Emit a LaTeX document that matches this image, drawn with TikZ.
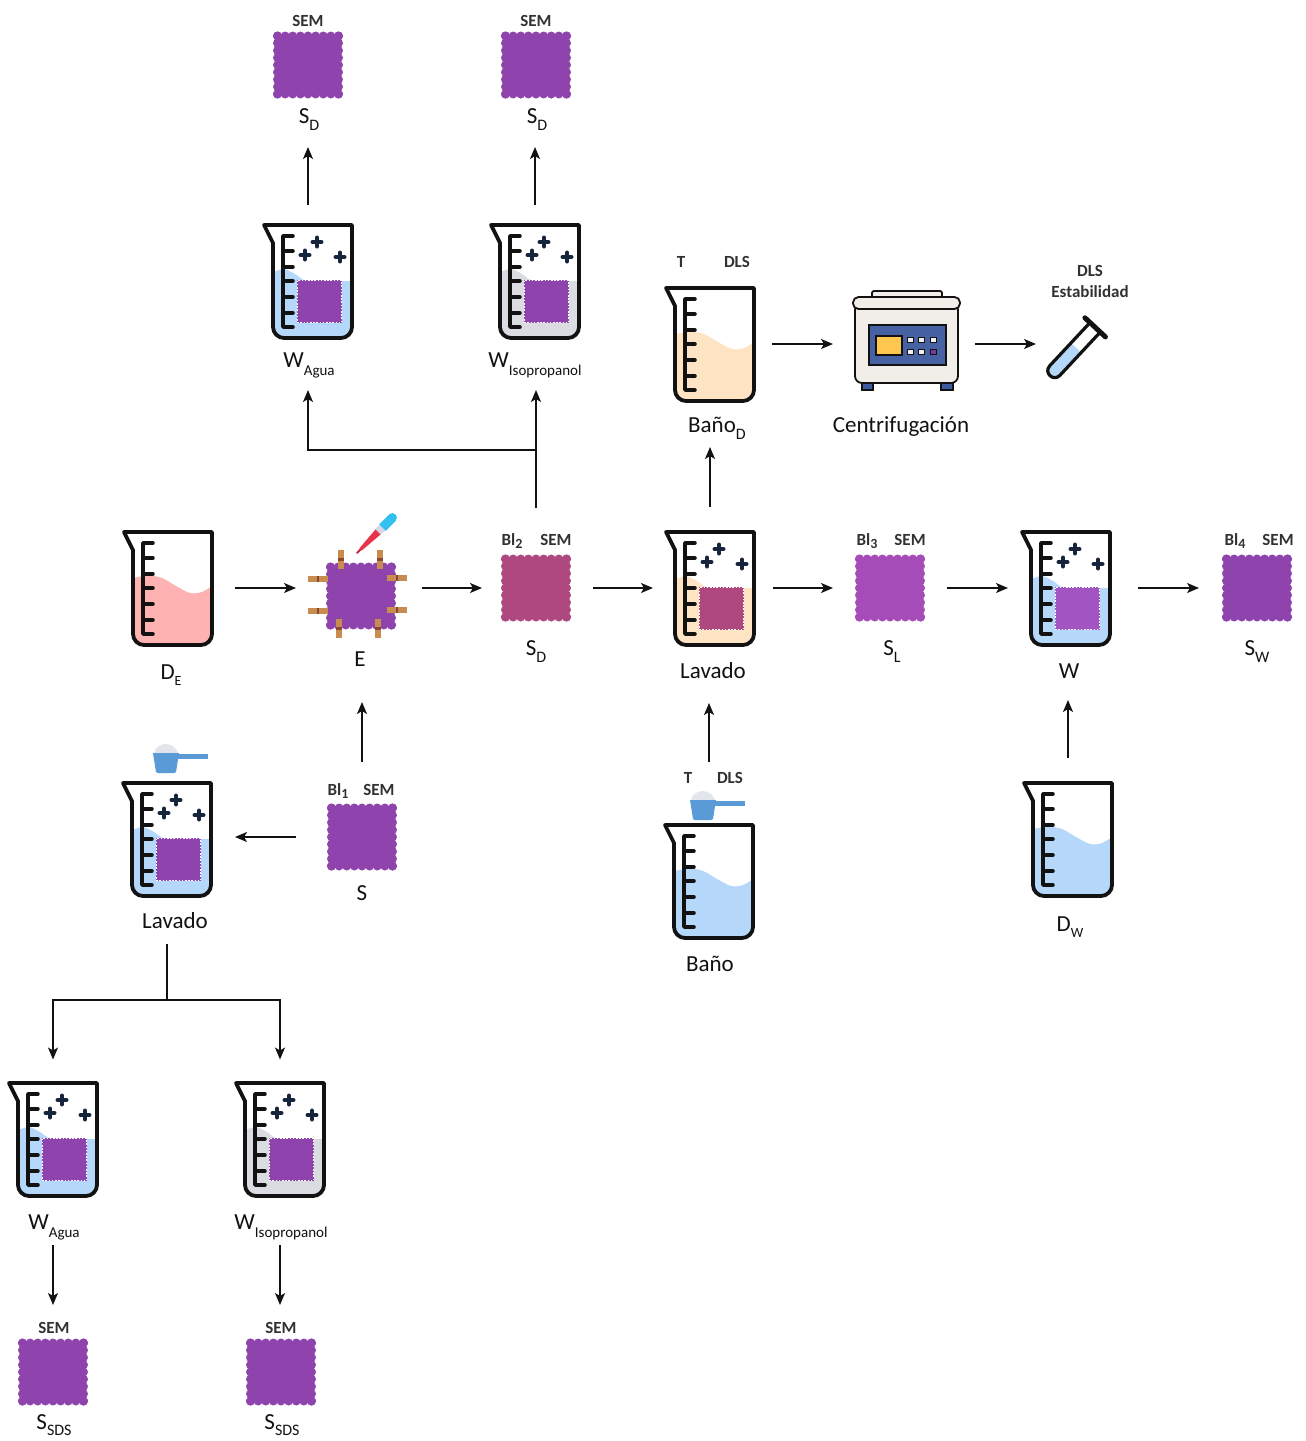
\documentclass[tikz,border=0pt]{standalone}
\usepackage{fontspec}
\setmainfont{Carlito}
\usetikzlibrary{arrows.meta,calc}

\definecolor{ink}{RGB}{18,18,18}
\definecolor{tagc}{RGB}{50,50,50}
\definecolor{purp}{RGB}{143,68,173}
\definecolor{mag}{RGB}{176,72,128}
\definecolor{lpurp}{RGB}{166,76,184}
\definecolor{wpurp}{RGB}{162,84,194}
\definecolor{water}{RGB}{180,215,250}
\definecolor{iso}{RGB}{218,220,226}
\definecolor{beige}{RGB}{255,228,196}
\definecolor{pinkliq}{RGB}{255,178,178}
\definecolor{navy}{RGB}{22,36,60}
\definecolor{pinc}{RGB}{200,140,80}
\definecolor{pinband}{RGB}{135,72,52}
\definecolor{scoopc}{RGB}{90,155,215}
\definecolor{powder}{RGB}{226,230,236}
\definecolor{dropred}{RGB}{232,52,74}
\definecolor{collar}{RGB}{215,215,230}
\definecolor{bulb}{RGB}{50,192,238}
\definecolor{cfbody}{RGB}{241,238,234}
\definecolor{cfpanel}{RGB}{70,98,162}
\definecolor{cffoot}{RGB}{60,90,160}
\definecolor{cfyellow}{RGB}{255,198,80}
\definecolor{cfbtn}{RGB}{240,240,240}
\definecolor{cfbtnp}{RGB}{120,60,160}

% subscripts of different sizes
\newcommand\sbt[1]{\raisebox{-7pt}{\fontsize{16}{16}\selectfont #1}}
\newcommand\sbs[1]{\raisebox{-8pt}{\fontsize{15}{15}\selectfont #1}}
\newcommand\sbe[1]{\raisebox{-6pt}{\fontsize{14}{14}\selectfont #1}}
\newcommand\sbn[1]{\raisebox{-3pt}{\fontsize{14}{14}\selectfont #1}}

% liquid and graduation of a beaker, drawn around the current origin
\newcommand\beakerbody[2]{%
  \begin{scope}
    \clip (-44,-56) -- (-35,-38) -- (-35,46) .. controls (-35,52) and (-30,57) .. (-24,57)
      -- (33,57) .. controls (39,57) and (44,52) .. (44,46) -- (44,-56) -- cycle;
    \fill[#1] plot[smooth] coordinates {#2} -- (50,64) -- (-50,64) -- cycle;
  \end{scope}
  \draw[ink, line width=3.5, line cap=round, line join=round]
    (-15,-45) -- (-25,-45) -- (-25,46) -- (-15,46);
  \foreach \t in {-30,-14,0,16,32}
    \draw[ink, line width=3.5, line cap=round] (-25,\t) -- (-15,\t);
}
% glass outline
\newcommand\beakerrim{%
  \draw[ink, line width=3.8, line join=round]
    (-44,-56) -- (-35,-38) -- (-35,46) .. controls (-35,52) and (-30,57) .. (-24,57)
    -- (33,57) .. controls (39,57) and (44,52) .. (44,46) -- (44,-56) -- cycle;
}
% beaker holding only a liquid
\newcommand\plainbeaker[3]{%
  \node[bbox] (#1) at (#2) {};
  \begin{scope}[shift={(#2)}]
    \beakerbody{#3}{(-46,-9) (-35,-10) (-20,-12.5) (-6,-10) (8,-2) (22,5) (34,4) (46,-3)}
    \beakerrim
  \end{scope}}
% beaker with a fabric sample and bubbles
\newcommand\washbeaker[4]{%
  \node[bbox] (#1) at (#2) {};
  \begin{scope}[shift={(#2)}]
    \beakerbody{#3}{(-46,-7) (-35,-9) (-24,-12) (-13,-7) (-4,-1) (10,0) (46,0)}
    \fill[#4] (-11,-1) rectangle (34,42);
    \draw[white, line width=1, dash pattern=on 1.6pt off 1.6pt] (-10.5,-0.5) rectangle (33.5,41.5);
    \foreach \px/\py in {9/-39,-3/-26,32/-24}
      \draw[navy, line width=4, line cap=round] (\px-4.5,\py) -- (\px+4.5,\py) (\px,\py-4.5) -- (\px,\py+4.5);
    \beakerrim
  \end{scope}}
% fabric swatch with scalloped border
\newcommand\swatch[3]{%
  \node[sbox] (#1) at (#2) {};
  \begin{scope}[shift={(#2)}]
    \fill[#3] (-30.5,-29) rectangle (30.5,29);
    \foreach \i in {0,...,8}{
      \fill[#3] ({-30.5+\i*7.625},-29) circle[radius=4.5];
      \fill[#3] ({-30.5+\i*7.625},29) circle[radius=4.5];
      \fill[#3] (-30.5,{-29+\i*7.25}) circle[radius=4.5];
      \fill[#3] (30.5,{-29+\i*7.25}) circle[radius=4.5];}
  \end{scope}}
% detergent scoop, origin at the top-left of the cup
\newcommand\scoop[1]{%
  \begin{scope}[shift={(#1)}]
    \fill[powder] (1,0) .. controls (2,-6) and (8,-9) .. (13,-9) .. controls (19,-9) and (24,-4) .. (25,0) -- cycle;
    \fill[scoopc] (0,0) -- (26,0) -- (23,19) .. controls (22.5,20) .. (21,20) -- (5,20) .. controls (3.5,20) .. (3,19) -- cycle;
    \fill[scoopc] (25,1) rectangle (55,5.5);
  \end{scope}}

\begin{document}
\begin{tikzpicture}[x=1pt,y=-1pt,
  every node/.style={inner sep=0pt, outer sep=0pt},
  bbox/.style={minimum width=90pt, minimum height=115pt},
  sbox/.style={minimum width=70pt, minimum height=67pt},
  lbl/.style={anchor=base, text=ink, font=\fontsize{23}{27}\selectfont},
  tag/.style={anchor=base, text=tagc, font=\fontsize{17}{20}\selectfont\bfseries},
  link/.style={ink, line width=1.4},
  arr/.style={link, -{Stealth[length=12pt, width=10pt, inset=3pt]}}]

\fill[white] (0,0) rectangle (1306,1441);
\useasboundingbox (0,0) rectangle (1306,1441);

% ---------- icons ----------
% top row
\swatch{semA}{308,65}{purp}
\swatch{semB}{536,65}{purp}
\washbeaker{wAguaT}{308,281}{water}{purp}
\washbeaker{wIsoT}{535,281}{iso}{purp}
\plainbeaker{banoD}{710,344}{beige}

% centrifuge
\node[minimum width=108pt, minimum height=100pt] (cf) at (907,344) {};
\draw[ink, line width=1.4, fill=cffoot] (862,381) rectangle (873,390);
\draw[ink, line width=1.4, fill=cffoot] (941,381) rectangle (953,390);
\draw[ink, line width=1.8, fill=cfbody, rounded corners=2] (872,291) rectangle (942,299);
\draw[ink, line width=1.8, fill=cfbody, rounded corners=7] (855,303) rectangle (958,383);
\draw[ink, line width=1.8, fill=cfbody, rounded corners=5.5] (853,297) rectangle (960,309);
\draw[ink, line width=1.5, fill=cfpanel] (869,325) rectangle (946,365);
\draw[ink, line width=1.2, fill=cfyellow] (876,336) rectangle (902,355);
\foreach \bx in {907,918,930}{
  \draw[ink, line width=0.9, fill=cfbtn] (\bx,337) rectangle (\bx+6.5,342.5);}
\foreach \bx in {907,918}{
  \draw[ink, line width=0.9, fill=cfbtn] (\bx,349) rectangle (\bx+6.5,354.5);}
\draw[ink, line width=0.9, fill=cfbtnp] (930,349) rectangle (936.5,354.5);

% test tube
\node[minimum width=70pt, minimum height=70pt] (tube) at (1074,350) {};
\begin{scope}[shift={(1074,350)}, rotate=47]
  \fill[water] (3,-6) -- (-28,-6) .. controls (-36,-6) and (-36,6) .. (-28,6) -- (3,6) -- cycle;
  \draw[ink, line width=3.2, line join=round] (30,-7) -- (-28,-7) .. controls (-37.5,-7) and (-37.5,7) .. (-28,7) -- (30,7);
  \draw[ink, line width=5, line cap=round] (31,-14) -- (31,14);
\end{scope}

% middle row
\plainbeaker{bDE}{168,588}{pinkliq}
\swatch{E}{361,596}{purp}
\foreach \x/\ya/\yb in {341/550/569,380/550/569,339/619/638,378/619/638}{
  \fill[pinc] (\x-2.6,\ya) rectangle (\x+2.6,\yb);
  \fill[pinband] (\x-2.6,{(\ya+\yb)/2-1.3}) rectangle (\x+2.6,{(\ya+\yb)/2+1.3});}
\foreach \y/\xa/\xb in {579/308/328,611/308/328,578/387/407,610/387/407}{
  \fill[pinc] (\xa,\y-2.6) rectangle (\xb,\y+2.6);
  \fill[pinband] ({(\xa+\xb)/2-1.3},\y-2.6) rectangle ({(\xa+\xb)/2+1.3},\y+2.6);}
% dropper
\begin{scope}[shift={(357,553)}, rotate=45]
  \draw[dropred!80!black, line width=2, line cap=round] (0,0) -- (6,0);
  \fill[dropred] (5,-1.6) -- (30,-3.6) -- (30,3.6) -- (5,1.6) -- cycle;
  \fill[collar] (30,-4) rectangle (36,4);
  \fill[bulb] (36,-4.6) -- (50,-4.6) .. controls (56,-4.6) and (56,4.6) .. (50,4.6) -- (36,4.6) -- cycle;
\end{scope}
\swatch{sD}{536,588}{mag}
\washbeaker{lavM}{710,588}{beige}{mag}
\swatch{sL}{890,588}{lpurp}
\washbeaker{bW}{1066,588}{water}{wpurp}
\swatch{sW}{1257,588}{purp}

% lower row
\scoop{153,753}
\washbeaker{lavL}{167,839}{water}{purp}
\swatch{S}{362,837}{purp}
\scoop{690,800}
\plainbeaker{bano}{709,881}{water}
\plainbeaker{bDW}{1068,839}{water}

% bottom rows
\washbeaker{wAguaB}{53,1139}{water}{purp}
\washbeaker{wIsoB}{280,1139}{iso}{purp}
\swatch{sdsA}{53,1372}{purp}
\swatch{sdsB}{281,1372}{purp}

% ---------- connectors ----------
\draw[arr, shorten <=18.5pt, shorten >=48.5pt] (wAguaT.north) -- (semA.south);
\draw[arr, shorten <=18.5pt, shorten >=48.5pt] (wIsoT.north) -- (wIsoT.north |- semB.south);
\draw[arr, shorten <=46.5pt, shorten >=51.5pt] (sD.north) -- (sD.north |- wIsoT.south);
\coordinate (brA) at (536,450);
\draw[arr, shorten >=51.5pt] (brA) -| (wAguaT.south);
\draw[arr, shorten <=23.5pt, shorten >=45.5pt] (lavM.north) -- (banoD.south);
\draw[arr, shorten <=17pt, shorten >=20pt] (banoD.east) -- (banoD.east -| cf.west);
\draw[arr, shorten <=14pt, shorten >=3pt] (cf.east) -- (cf.east -| tube.west);

\draw[arr, shorten <=22pt, shorten >=30pt] (bDE.east) -- (bDE.east -| E.west);
\draw[arr, shorten <=26pt, shorten >=19pt] (E.east |- sD.west) -- (sD.west);
\draw[arr, shorten <=22pt, shorten >=12pt] (sD.east) -- (lavM.west);
\draw[arr, shorten <=18pt, shorten >=22pt] (lavM.east) -- (sL.west);
\draw[arr, shorten <=22pt, shorten >=13pt] (sL.east) -- (bW.west);
\draw[arr, shorten <=27pt, shorten >=23pt] (bW.east) -- (sW.west);

\draw[arr, shorten <=41.5pt, shorten >=72.5pt] (S.north) -- (S.north |- E.south);
\draw[arr, shorten <=61.5pt, shorten >=57.5pt] (bano.north) -- (bano.north |- lavM.south);
\draw[arr, shorten <=23.5pt, shorten >=54.5pt] (bDW.north) -- (bDW.north |- bW.south);
\draw[arr, shorten <=31pt, shorten >=23pt] (S.west) -- (S.west -| lavL.east);

\coordinate (brB) at (167,1000);
\draw[link, shorten <=47.5pt] (lavL.south) -- (brB);
\draw[arr, shorten >=22pt] (brB) -| (wAguaB.north);
\draw[arr, shorten >=22pt] (brB) -| (wIsoB.north);
\draw[arr, shorten <=48.5pt, shorten >=33.5pt] (wAguaB.south) -- (sdsA.north);
\draw[arr, shorten <=48.5pt, shorten >=33.5pt] (wIsoB.south) -- (wIsoB.south |- sdsB.north);

% ---------- labels ----------
\node[tag] (tSEMa) at (308,26) {SEM};
\node[tag] (tSEMb) at (536,26) {SEM};
\node[lbl] (lSDa) at (309,123) {S\sbt{D}};
\node[lbl] (lSDb) at (537,123) {S\sbt{D}};
\node[lbl] (lWAt) at (309,367) {W\sbs{Agua}};
\node[lbl] (lWIt) at (535,367) {W\sbs{Isopropanol}};

\node[tag] (tTa) at (681,267) {T};
\node[tag] (tDLSa) at (737,267) {DLS};
\node[lbl] (lBanoD) at (717,432) {Baño\sbt{D}};
\node[lbl] (lCf) at (901,432) {Centrifugación};
\node[tag] (tDLSb) at (1090,276) {DLS};
\node[tag] (tEst) at (1090,297) {Estabilidad};

\node[lbl] (lDE) at (171,679) {D\sbe{E}};
\node[lbl] (lE) at (360,666) {E};
\node[tag] (tBl2) at (512,545) {Bl\sbn{2}};
\node[tag] (tSEMc) at (556,545) {SEM};
\node[lbl] (lSDc) at (536,655) {S\sbt{D}};
\node[lbl] (lLavM) at (713,678) {Lavado};
\node[tag] (tBl3) at (867,545) {Bl\sbn{3}};
\node[tag] (tSEMd) at (910,545) {SEM};
\node[lbl] (lSL) at (892,655) {S\sbt{L}};
\node[lbl] (lW) at (1069,678) {W};
\node[tag] (tBl4) at (1235,545) {Bl\sbn{4}};
\node[tag] (tSEMe) at (1278,545) {SEM};
\node[lbl] (lSW) at (1257,655) {S\sbt{W}};

\node[lbl] (lLavL) at (175,928) {Lavado};
\node[tag] (tBl1) at (338,795) {Bl\sbn{1}};
\node[tag] (tSEMf) at (379,795) {SEM};
\node[lbl] (lS) at (362,900) {S};
\node[tag] (tTb) at (688,783) {T};
\node[tag] (tDLSc) at (730,783) {DLS};
\node[lbl] (lBano) at (710,971) {Baño};
\node[lbl] (lDW) at (1070,931) {D\sbe{W}};

\node[lbl] (lWAb) at (54,1229) {W\sbs{Agua}};
\node[lbl] (lWIb) at (281,1229) {W\sbs{Isopropanol}};
\node[tag] (tSEMg) at (54,1333) {SEM};
\node[tag] (tSEMh) at (281,1333) {SEM};
\node[lbl] (lSDSa) at (54,1429) {S\raisebox{-6pt}{\fontsize{16}{16}\selectfont SDS}};
\node[lbl] (lSDSb) at (282,1429) {S\raisebox{-6pt}{\fontsize{16}{16}\selectfont SDS}};
\end{tikzpicture}
\end{document}
